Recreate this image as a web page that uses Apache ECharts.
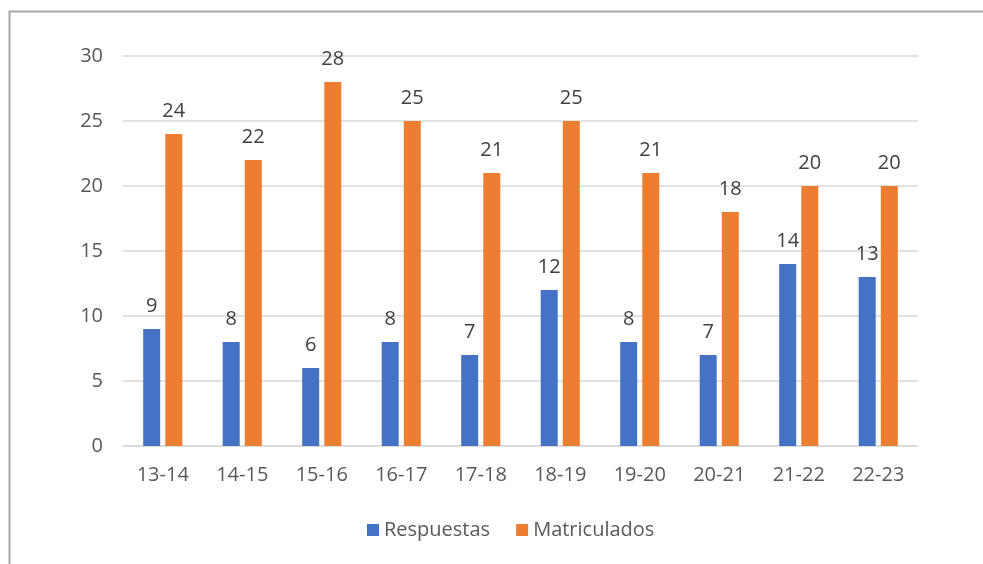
<!DOCTYPE html>
<html>
<head>
<meta charset="utf-8">
<script src="https://cdn.jsdelivr.net/npm/echarts@6/dist/echarts.min.js"></script>
<style>
  html, body { margin: 0; padding: 0; background: #fff; }
  #chart { width: 983px; height: 564px; }
</style>
</head>
<body>
<div id="chart"></div>
<script>
var cursos = ['13-14', '14-15', '15-16', '16-17', '17-18', '18-19', '19-20', '20-21', '21-22', '22-23']
var respuestas = [9, 8, 6, 8, 7, 12, 8, 7, 14, 13]
var matriculados = [24, 22, 28, 25, 21, 25, 21, 18, 20, 20]

var txtFont = 'Open Sans'
var chart = echarts.init(document.getElementById('chart'))

var labelStyle = {
  show: true,
  position: 'top',
  distance: 13,
  color: '#404040',
  fontSize: 20,
  fontFamily: txtFont
}

var option = {
  animation: false,
  backgroundColor: '#fff',
  graphic: [{
    type: 'rect',
    shape: { x: 9.5, y: 11.5, width: 1100, height: 700 },
    style: { fill: 'none', stroke: '#a6a6a6', lineWidth: 2 }
  }],
  legend: {
    top: 515,
    left: 362,
    itemWidth: 12,
    itemHeight: 12,
    itemGap: 26,
    icon: 'rect',
    textStyle: { color: '#595959', fontSize: 20, fontFamily: txtFont },
    data: ['Respuestas', 'Matriculados']
  },
  grid: { left: 123, right: 65, top: 56, bottom: 118 },
  xAxis: {
    type: 'category',
    data: cursos,
    axisLine: { lineStyle: { color: '#d9d9d9', width: 1.5 } },
    axisTick: { show: false },
    axisLabel: { color: '#595959', fontSize: 20, fontFamily: txtFont, margin: 19 }
  },
  yAxis: {
    type: 'value',
    min: 0,
    max: 30,
    interval: 5,
    axisLine: { show: false },
    axisTick: { show: false },
    splitLine: { lineStyle: { color: '#d9d9d9', width: 1.5 } },
    axisLabel: { color: '#595959', fontSize: 20, fontFamily: txtFont, margin: 20 }
  },
  series: [
    {
      name: 'Respuestas',
      type: 'bar',
      data: respuestas,
      barWidth: 17,
      barGap: '30%',
      itemStyle: { color: '#4472c4' },
      label: labelStyle
    },
    {
      name: 'Matriculados',
      type: 'bar',
      data: matriculados,
      barWidth: 17,
      barGap: '30%',
      itemStyle: { color: '#ed7d31' },
      label: labelStyle
    }
  ]
}

chart.setOption(option)
</script>
</body>
</html>
